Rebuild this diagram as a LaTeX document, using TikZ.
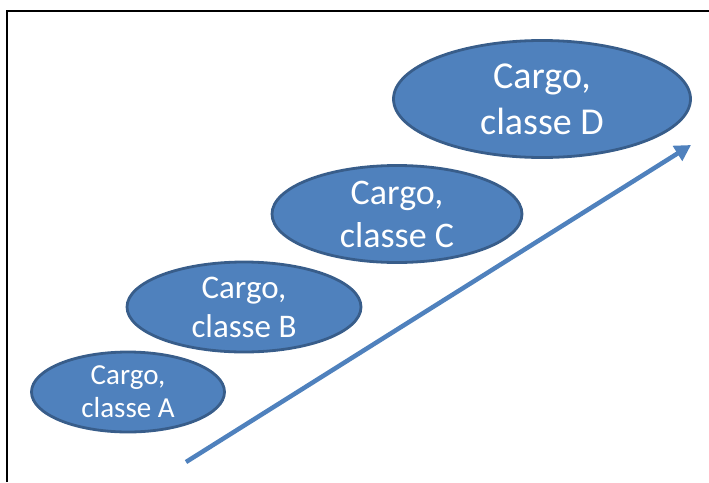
\documentclass[tikz,border=0pt]{standalone}
\usepackage{fontspec}
\setmainfont{Carlito}
\usetikzlibrary{positioning, arrows.meta, shapes.geometric}
\definecolor{fillblue}{HTML}{4F81BD}
\definecolor{edgeblue}{HTML}{385D8A}
\definecolor{frame}{HTML}{000000}
\tikzset{
  cgbase/.style  = {ellipse, draw=edgeblue, fill=fillblue, line width=2.8pt, inner sep=0pt},
  cgtext/.style  = {text=white, align=center, inner sep=0pt},
  cgarrow/.style = {-{Triangle[length=16pt,width=17pt]}, draw=fillblue, line width=4.5pt},
  cgframe/.style = {draw=frame, line width=2pt},
}
\begin{document}
\begin{tikzpicture}[x=1pt, y=-1pt]
\useasboundingbox (0,0) rectangle (709,482);

% frame, open at right and bottom
\coordinate (fb) at (7,482);
\coordinate (fc) at (7,11);
\coordinate (fr) at (709,11);
\draw[cgframe] (fb) -- (fc) -- (fr);

% the four classes
\node[cgbase, minimum width=193pt, minimum height=80pt] (ca) at (128,392) {};
\node[cgtext, font=\fontsize{29}{33}\selectfont] (ta) at (ca) {Cargo,\\classe A};

\node[cgbase, minimum width=234pt, minimum height=90pt] (cb) at (244,307) {};
\node[cgtext, font=\fontsize{33}{39}\selectfont] (tb) at (cb) {Cargo,\\classe B};

\node[cgbase, minimum width=250pt, minimum height=97pt] (cc) at (397,214) {};
\node[cgtext, font=\fontsize{36}{43}\selectfont] (tc) at (cc) {Cargo,\\classe C};

\node[cgbase, minimum width=297pt, minimum height=117pt] (cd) at (542,99) {};
\node[cgtext, font=\fontsize{38}{46}\selectfont] (td) at (cd) {Cargo,\\classe D};

% growth arrow
\coordinate (as) at (186,462);
\coordinate (ae) at (691,145);
\draw[cgarrow] (as) -- (ae);
\end{tikzpicture}
\end{document}
